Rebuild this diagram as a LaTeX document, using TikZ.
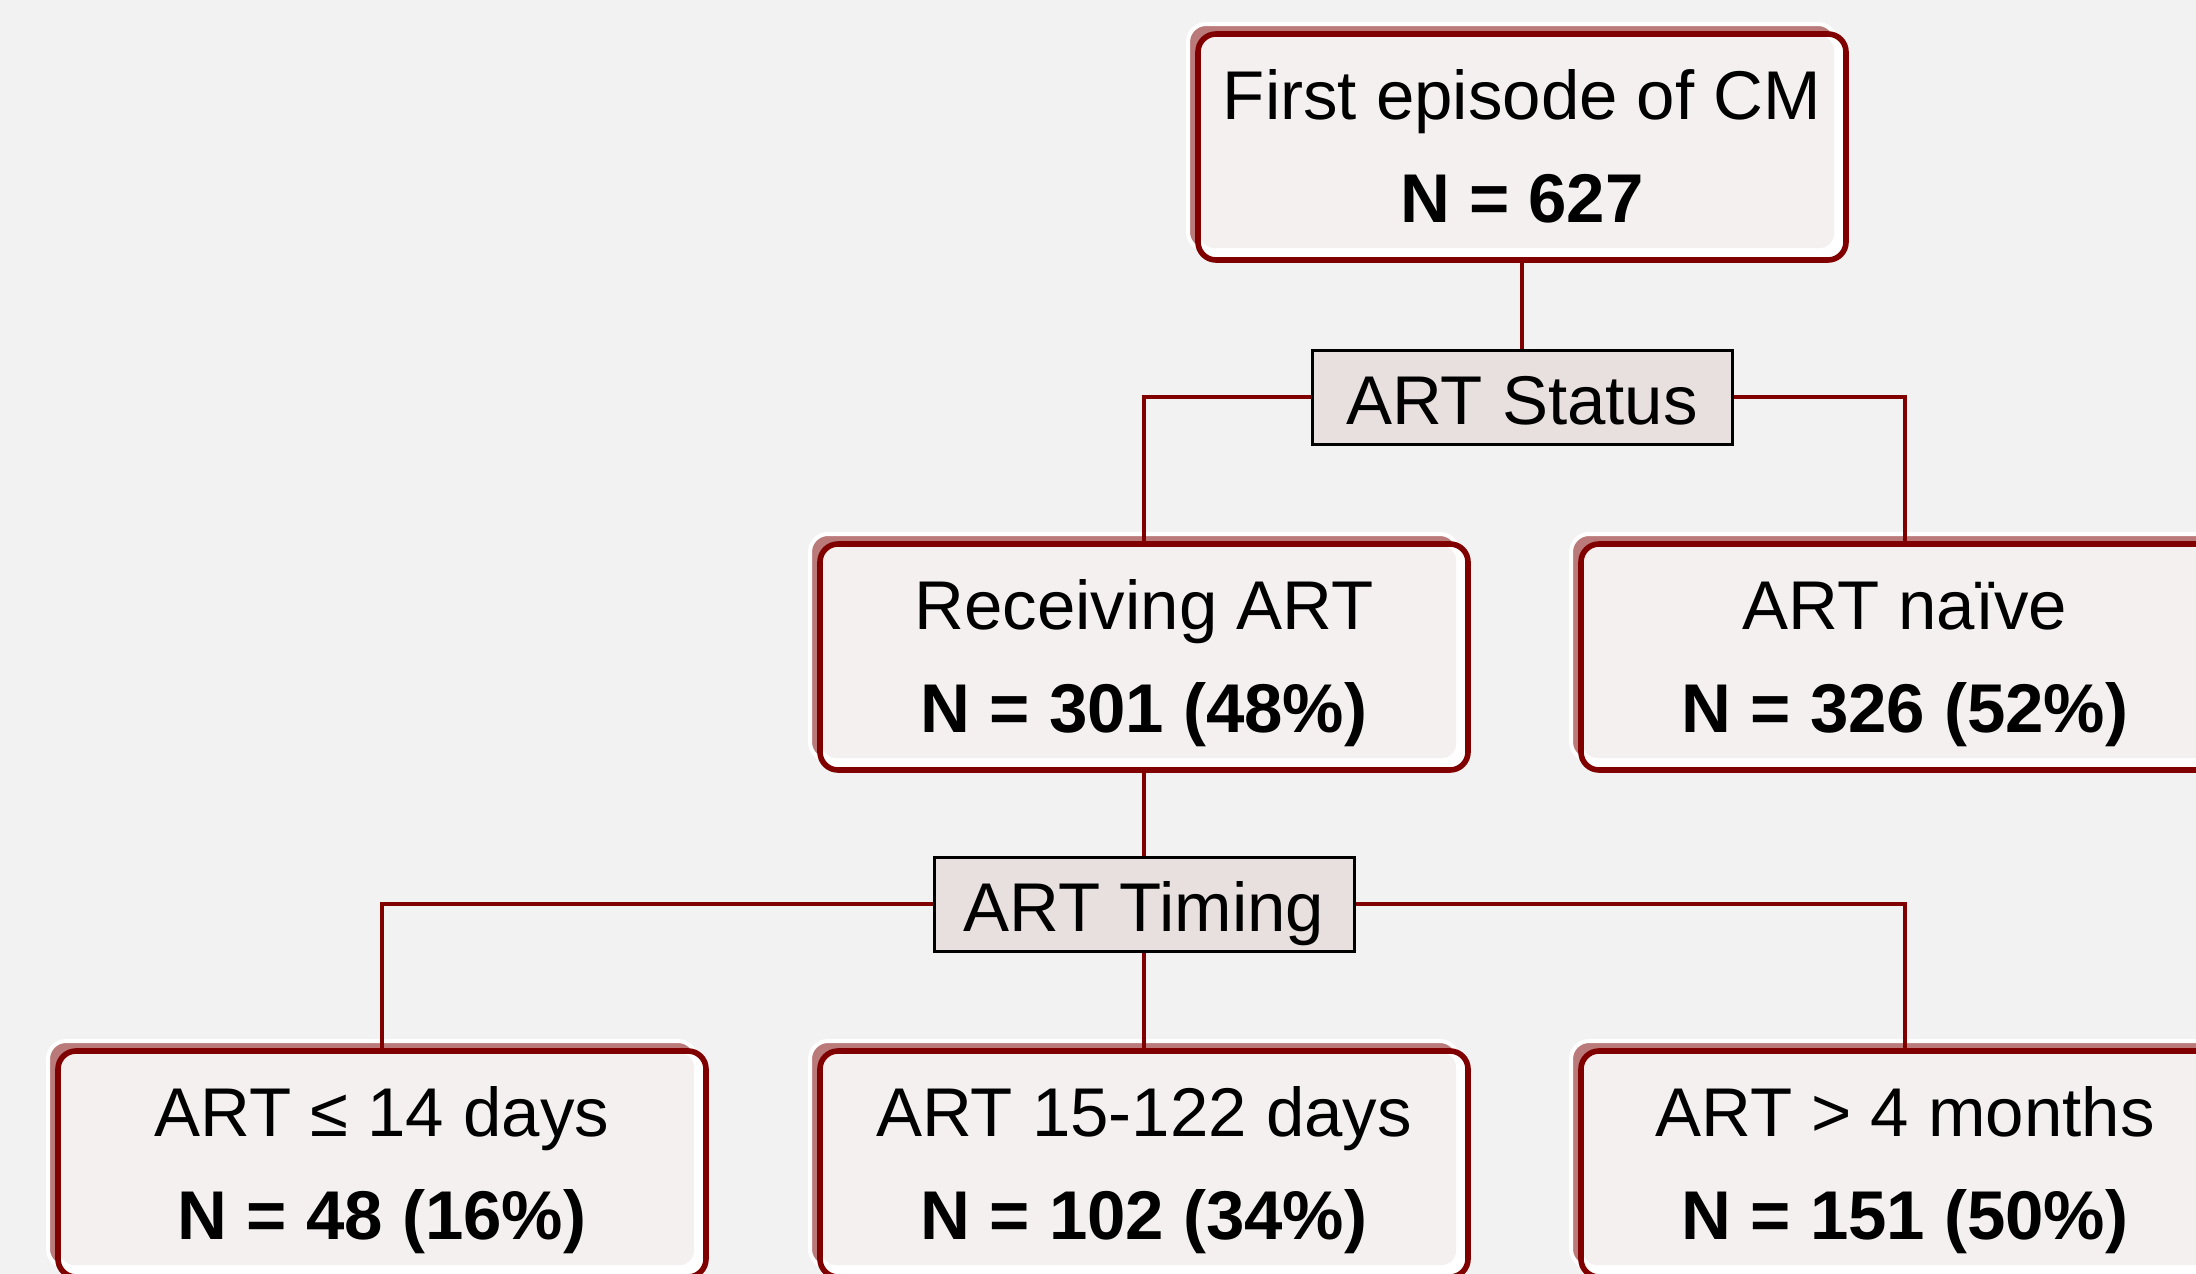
\documentclass[tikz,border=0pt]{standalone}
\usepackage{fontspec}
\setmainfont{Liberation Sans}
\usetikzlibrary{calc}
\definecolor{bgc}{HTML}{F2F2F2}
\definecolor{dred}{HTML}{800000}
\definecolor{shadc}{HTML}{BA7A7A}
\definecolor{pinkc}{HTML}{F5F0F0}
\definecolor{labc}{HTML}{E8DFDF}
\tikzset{
  mainbox/.style={rounded corners=9pt, minimum width=324pt, minimum height=113pt,
    inner sep=0pt, fill=white, draw=dred, line width=2.8pt,
    preaction={fill=shadc, draw=white, line width=2pt, transform canvas={shift={(-5pt,5pt)}}},
    path picture={\fill[pinkc, rounded corners=7pt]
      ($(path picture bounding box.north west)+(1pt,-1pt)$) rectangle
      ($(path picture bounding box.south east)+(-6pt,6pt)$);}},
  labbox/.style={minimum width=210pt, minimum height=47pt, inner sep=0pt,
    text height=27pt, text depth=0pt,
    fill=labc, draw=black, line width=1.5pt, font=\fontsize{34.5pt}{40pt}\selectfont},
  txt/.style={inner sep=0pt, font=\fontsize{34.5pt}{40pt}\selectfont},
  conn/.style={draw=dred, line width=2pt}
}
\newcommand\cmbox[5]{%
  \node[mainbox] (#1) at (#2,#3) {};
  \node[txt, anchor=base, yshift=-44pt] (#1-a) at (#1.north) {#4};
  \node[txt, anchor=base, yshift=-95.5pt] (#1-b) at (#1.north) {\bfseries #5};
}
\begin{document}
\begin{tikzpicture}[x=0.5pt, y=-0.5pt]
\useasboundingbox (0,0) rectangle (2196,1274);
\fill[bgc] (0,0) rectangle (2196,1274);
\clip (0,0) rectangle (2196,1274);

\cmbox{top}{1522}{147}{First episode of CM}{N = 627}
\cmbox{recv}{1144}{657}{Receiving ART}{N = 301 (48\%)}
\cmbox{naive}{1905}{657}{ART naïve}{N = 326 (52\%)}
\cmbox{b1}{382}{1164}{ART ≤ 14 days}{N = 48 (16\%)}
\cmbox{b2}{1144}{1164}{ART 15-122 days}{N = 102 (34\%)}
\cmbox{b3}{1905}{1164}{ART > 4 months}{N = 151 (50\%)}

\node[labbox] (status) at (1522,397) {ART Status};
\node[labbox] (timing) at (1144,904) {ART Timing};

\draw[conn] (top.south) -- (status.north);
\draw[conn] (status.west) -| (recv.north);
\draw[conn] (status.east) -| (naive.north);
\draw[conn] (recv.south) -- (timing.north);
\draw[conn] (timing.west) -| (b1.north);
\draw[conn] (timing.south) -- (b2.north);
\draw[conn] (timing.east) -| (b3.north);
\end{tikzpicture}
\end{document}
